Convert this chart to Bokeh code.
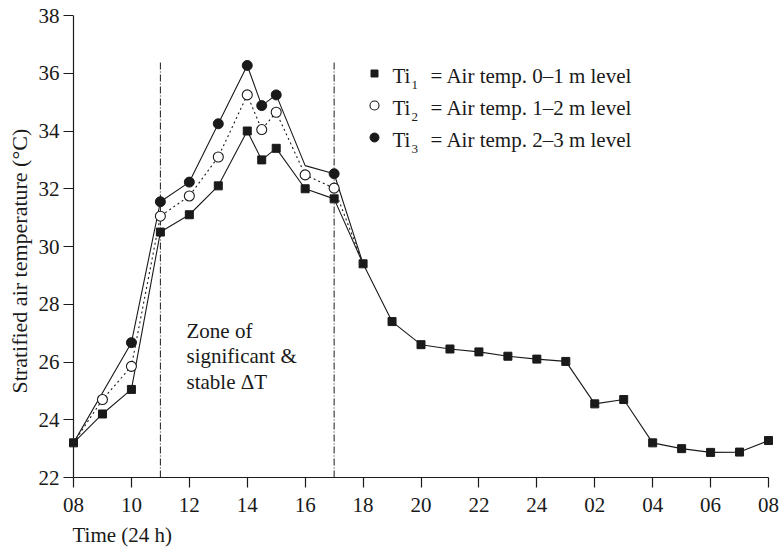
from bokeh.plotting import figure
from bokeh.models import Range1d, FixedTicker, Label, Span, Title
from bokeh.core.properties import value
from bokeh.embed import file_html
from bokeh.resources import INLINE

# ---------------- data ----------------
# elapsed hours from 08:00
hours_ti1 = [0, 1, 2, 3, 4, 5, 6, 6.5, 7, 8, 9, 10, 11, 12, 13, 14, 15, 16, 17, 18, 19, 20, 21, 22, 23, 24]
ti1 = [23.2, 24.2, 25.05, 30.5, 31.1, 32.1, 34.0, 33.0, 33.4, 32.0, 31.65, 29.4, 27.4, 26.6,
       26.45, 26.35, 26.2, 26.1, 26.02, 24.55, 24.7, 23.2, 23.0, 22.87, 22.88, 23.28]

hours_ti2 = [0, 1, 2, 3, 4, 5, 6, 6.5, 7, 8, 9, 10]
ti2 = [23.2, 24.7, 25.85, 31.05, 31.75, 33.1, 35.25, 34.05, 34.65, 32.48, 32.02, 29.4]
ti2_marked = [False, True, True, True, True, True, True, True, True, True, True, False]

hours_ti3 = [0, 2, 3, 4, 5, 6, 6.5, 7, 8, 9, 10]
ti3 = [23.2, 26.67, 31.55, 32.23, 34.25, 36.27, 34.88, 35.25, 32.8, 32.52, 29.4]
ti3_marked = [False, True, True, True, True, True, True, True, False, True, False]

x_ticks = [0, 2, 4, 6, 8, 10, 12, 14, 16, 18, 20, 22, 24]
x_tick_labels = ["08", "10", "12", "14", "16", "18", "20", "22", "24", "02", "04", "06", "08"]
y_ticks = [22, 24, 26, 28, 30, 32, 34, 36, 38]

zone_bounds = [3, 9]      # 11:00 and 17:00
zone_top = 36.37

legend_main = ["Ti", "Ti", "Ti"]
legend_sub = ["1", "2", "3"]
legend_desc = ["= Air temp. 0\u20131 m level", "= Air temp. 1\u20132 m level", "= Air temp. 2\u20133 m level"]
zone_text = ["Zone of", "significant &", "stable \u0394T"]

# ---------------- layout helpers (page px -> data) ----------------
X0_PX, X24_PX = 73.0, 768.0
XS = (X24_PX - X0_PX) / 24.0
Y38_PX, Y22_PX = 15.0, 477.0
YS = (Y22_PX - Y38_PX) / 16.0
W, H = 779, 554
FRAME_L, FRAME_R = 66, 775


def px_x(px):
    return (px - X0_PX) / XS


def px_y(py):
    return 38 - (py - Y38_PX) / YS


FONT = "Liberation Serif"
FS = "21px"
INK = "#1a1a1a"

p = figure(width=W, height=H, output_backend="svg", toolbar_location=None,
           x_range=Range1d(px_x(FRAME_L), px_x(FRAME_R)), y_range=Range1d(22, 38),
           min_border_left=FRAME_L, min_border_right=W - FRAME_R,
           min_border_top=int(Y38_PX), min_border_bottom=int(H - Y22_PX))
p.outline_line_color = None
p.xgrid.visible = False
p.ygrid.visible = False
p.background_fill_color = "white"
p.border_fill_color = "white"

for ax in (p.xaxis[0], p.yaxis[0]):
    ax.major_tick_line_color = INK
    ax.major_tick_line_width = 1.2
    ax.minor_tick_line_color = None
    ax.major_label_text_font = FONT
    ax.major_label_text_font_size = FS
    ax.major_label_text_color = INK

p.xaxis.axis_line_color = INK
p.xaxis.axis_line_width = 1.2
p.xaxis.ticker = FixedTicker(ticks=x_ticks)
p.xaxis.major_label_overrides = {t: lab for t, lab in zip(x_ticks, x_tick_labels)}
p.xaxis.bounds = (x_ticks[0], x_ticks[-1])
p.xaxis.major_tick_out = 10
p.xaxis.major_tick_in = 0
p.xaxis.major_label_standoff = 10

p.yaxis.axis_line_color = None
p.yaxis.ticker = FixedTicker(ticks=y_ticks)
p.yaxis.major_tick_out = 3
p.yaxis.major_tick_in = int(X0_PX - FRAME_L)
p.yaxis.major_label_standoff = 4

# y axis line at 08:00
p.add_layout(Span(location=0, dimension="height", line_color=INK, line_width=1.2))

# axis titles
p.add_layout(Title(text="Stratified air temperature (\u00b0C)", align="left", offset=84,
                   text_font=FONT, text_font_size="22px", text_font_style="normal",
                   text_color=INK, standoff=8), "left")
p.add_layout(Title(text="Time (24 h)", align="left", offset=X0_PX - FRAME_L - 1,
                   text_font=FONT, text_font_size=FS, text_font_style="normal",
                   text_color=INK, standoff=13), "below")

# zone lines
p.segment(x0=zone_bounds, y0=[22, 22], x1=zone_bounds, y1=[zone_top, zone_top],
          line_color=INK, line_width=1, line_dash="7 2 1 2")

# series lines
p.line(hours_ti1, ti1, line_color=INK, line_width=1.1)
p.line(hours_ti2, ti2, line_color=INK, line_width=1.1, line_dash="2 3")
p.line(hours_ti3, ti3, line_color=INK, line_width=1.1)

# markers
p.scatter(hours_ti1, ti1, marker="square", size=8, fill_color=INK, line_color=INK)
p.scatter([h for h, m in zip(hours_ti2, ti2_marked) if m], [v for v, m in zip(ti2, ti2_marked) if m],
          marker="circle", size=10, fill_color="white", line_color=INK, line_width=1.1)
p.scatter([h for h, m in zip(hours_ti3, ti3_marked) if m], [v for v, m in zip(ti3, ti3_marked) if m],
          marker="circle", size=10, fill_color=INK, line_color=INK)

# legend
row_py = [73, 105, 137]
p.scatter([px_x(374)], [px_y(row_py[0])], marker="square", size=7, fill_color=INK, line_color=INK)
p.scatter([px_x(374)], [px_y(row_py[1])], marker="circle", size=9, fill_color="white", line_color=INK, line_width=1.1)
p.scatter([px_x(374)], [px_y(row_py[2])], marker="circle", size=9, fill_color=INK, line_color=INK)
p.text([px_x(392)] * 3, [px_y(r + 2) for r in row_py], text=legend_main,
       text_font=value(FONT), text_font_size=value(FS), text_color=INK,
       text_baseline="middle", text_align="left")
p.text([px_x(411)] * 3, [px_y(r + 11) for r in row_py], text=legend_sub,
       text_font=value(FONT), text_font_size=value("13px"), text_color=INK,
       text_baseline="middle", text_align="left")
p.text([px_x(430)] * 3, [px_y(r + 2) for r in row_py], text=legend_desc,
       text_font=value(FONT), text_font_size=value(FS), text_color=INK,
       text_baseline="middle", text_align="left")

# zone annotation
for i, t in enumerate(zone_text):
    p.add_layout(Label(x=px_x(186), y=px_y(330 + 25.5 * i), text=t, text_font=FONT,
                       text_font_size=FS, text_color=INK,
                       text_baseline="middle", text_align="left"))

open("out.html", "w").write(file_html(p, INLINE))
